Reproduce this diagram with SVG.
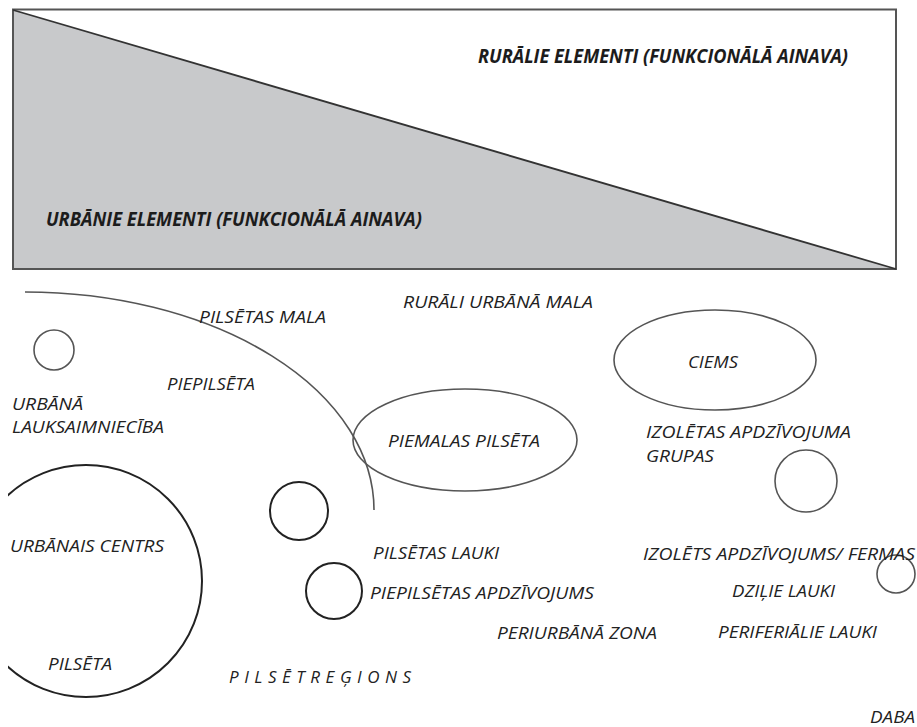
<svg xmlns="http://www.w3.org/2000/svg" width="917" height="727" viewBox="0 0 917 727">
<style>
.t{font-family:"Open Sans","DejaVu Sans",sans-serif;font-style:italic;font-size:17px;fill:#222}
.h{font-family:"Open Sans","DejaVu Sans",sans-serif;font-style:italic;font-weight:bold;font-size:19px;fill:#1c1c1c}
.ln{fill:none;stroke:#222;stroke-width:2}
.lg{fill:none;stroke:#555;stroke-width:1.6}
</style>
<defs>
<clipPath id="clipL"><rect x="8" y="0" width="909" height="727"/></clipPath>
</defs>
<rect width="917" height="727" fill="#fff"/>
<g id="gradient-box">
<polygon points="13,10 13,269 896,269" fill="#c8c9cb"/>
<rect x="13" y="9.5" width="883" height="259.5" fill="none" stroke="#555" stroke-width="2"/>
<line x1="13" y1="10" x2="896" y2="269" stroke="#333" stroke-width="1.8"/>
<text class="h" x="478" y="63" textLength="370" lengthAdjust="spacingAndGlyphs">RURĀLIE ELEMENTI (FUNKCIONĀLĀ AINAVA)</text>
<text class="h" x="46" y="226" textLength="376" lengthAdjust="spacingAndGlyphs">URBĀNIE ELEMENTI (FUNKCIONĀLĀ AINAVA)</text>
</g>
<g id="city-edge">
<path class="lg" d="M25,292 A349,218 0 0 1 374,510"/>
<text class="t" x="199" y="323" textLength="127" lengthAdjust="spacingAndGlyphs">PILSĒTAS MALA</text>
<text class="t" x="167" y="390" textLength="88" lengthAdjust="spacingAndGlyphs">PIEPILSĒTA</text>
</g>
<g id="urban-agriculture">
<circle class="lg" cx="54" cy="350" r="20"/>
<text class="t" x="12" y="410" textLength="71" lengthAdjust="spacingAndGlyphs">URBĀNĀ</text>
<text class="t" x="12" y="433" textLength="152" lengthAdjust="spacingAndGlyphs">LAUKSAIMNIECĪBA</text>
</g>
<g id="urban-centre">
<circle class="ln" cx="86" cy="581" r="116" clip-path="url(#clipL)"/>
<text class="t" x="10" y="552" textLength="154" lengthAdjust="spacingAndGlyphs">URBĀNAIS CENTRS</text>
<text class="t" x="48" y="670" textLength="64" lengthAdjust="spacingAndGlyphs">PILSĒTA</text>
</g>
<g id="city-fields">
<circle class="ln" cx="299" cy="511" r="29"/>
<text class="t" x="373" y="559" textLength="126" lengthAdjust="spacingAndGlyphs">PILSĒTAS LAUKI</text>
</g>
<g id="suburban-settlement">
<circle class="ln" cx="334" cy="591" r="28"/>
<text class="t" x="370" y="599" textLength="224" lengthAdjust="spacingAndGlyphs">PIEPILSĒTAS APDZĪVOJUMS</text>
</g>
<g id="edge-town">
<ellipse class="lg" cx="465" cy="440" rx="112" ry="51"/>
<text class="t" x="388" y="447" textLength="152" lengthAdjust="spacingAndGlyphs">PIEMALAS PILSĒTA</text>
</g>
<g id="rural-urban-fringe">
<text class="t" x="403" y="308" textLength="190" lengthAdjust="spacingAndGlyphs">RURĀLI URBĀNĀ MALA</text>
</g>
<g id="village">
<ellipse class="lg" cx="715" cy="360" rx="101" ry="50"/>
<text class="t" x="688" y="368" textLength="50" lengthAdjust="spacingAndGlyphs">CIEMS</text>
</g>
<g id="isolated-groups">
<circle class="lg" cx="806" cy="481" r="31"/>
<text class="t" x="646" y="438" textLength="205" lengthAdjust="spacingAndGlyphs">IZOLĒTAS APDZĪVOJUMA</text>
<text class="t" x="646" y="462" textLength="68" lengthAdjust="spacingAndGlyphs">GRUPAS</text>
</g>
<g id="isolated-farms">
<circle class="lg" cx="896" cy="574" r="19"/>
<text class="t" x="643" y="560" textLength="272" lengthAdjust="spacingAndGlyphs">IZOLĒTS APDZĪVOJUMS/ FERMAS</text>
</g>
<g id="zones">
<text class="t" x="732" y="597" textLength="103" lengthAdjust="spacingAndGlyphs">DZIĻIE LAUKI</text>
<text class="t" x="497" y="639" textLength="160" lengthAdjust="spacingAndGlyphs">PERIURBĀNĀ ZONA</text>
<text class="t" x="718" y="638" textLength="159" lengthAdjust="spacingAndGlyphs">PERIFERIĀLIE LAUKI</text>
<text class="t" x="229" y="683" textLength="182" lengthAdjust="spacing">PILSĒTREĢIONS</text>
<text class="t" x="870" y="723" textLength="45" lengthAdjust="spacingAndGlyphs">DABA</text>
</g>
</svg>
